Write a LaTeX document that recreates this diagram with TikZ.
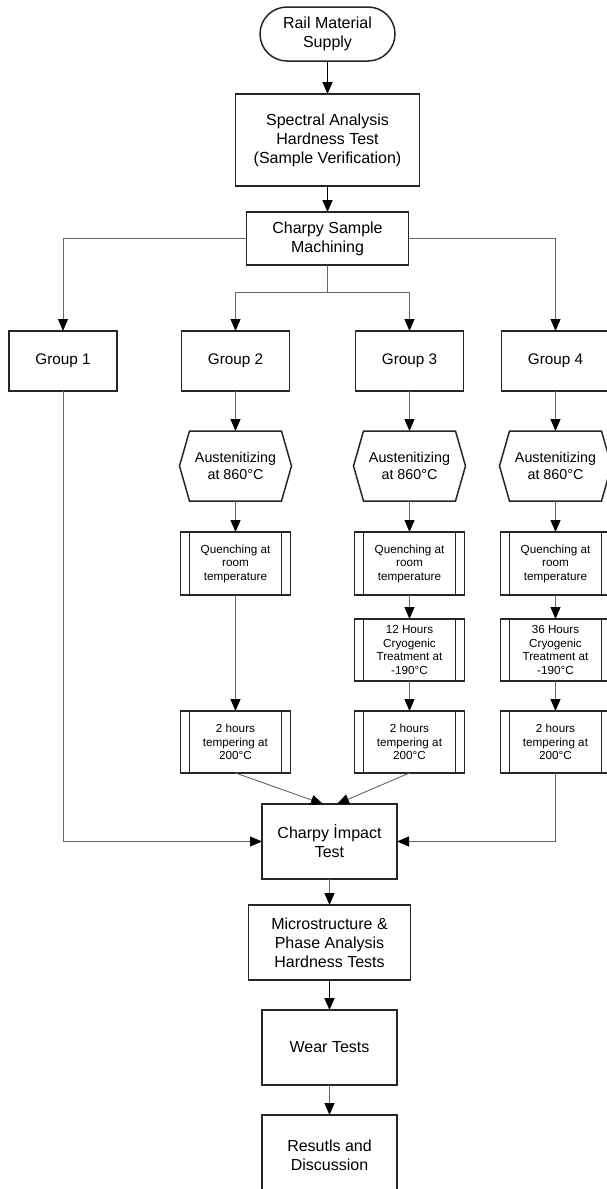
\documentclass[tikz,border=0pt]{standalone}
\usepackage{fontspec}
\setmainfont{Liberation Sans}
\usetikzlibrary{arrows.meta}

\begin{document}
\begin{tikzpicture}[x = 1pt, y = -1pt,
	box/.style = {draw = black!85, line width = 1.5pt, outer sep = 0pt, align = center, inner sep = 1pt},
	plain/.style = {outer sep = 0pt, align = center, inner sep = 1pt},
	big/.style = {font = \fontsize{16}{19}\selectfont},
	mid/.style = {font = \fontsize{14.3}{16.7}\selectfont},
	small/.style = {font = \fontsize{11.7}{13.5}\selectfont},
	grp/.style = {box, font = \fontsize{15.3}{18}\selectfont, minimum width = 108pt, minimum height = 60pt},
	prep/.style = {plain, mid, minimum width = 112pt, minimum height = 70pt},
	proc/.style = {box, small, minimum width = 110pt, minimum height = 62pt},
	edge/.style = {draw = black!85, line width = 1.5pt},
	link/.style = {draw = black!60, line width = 0.9pt, -{Triangle[length = 12pt, width = 10pt, black]}},
	main/.style = {draw = black, line width = 1.6pt, -{Triangle[length = 12pt, width = 10pt, black]}}]%akis
	\path[use as bounding box, fill = white] (0,0) rectangle (607,1189);

	\node[box, big, rounded corners = 27pt, minimum width = 135pt, minimum height = 54pt] (rail) at (327.5,34) {Rail Material\\Supply};
	\node[box, big, minimum width = 184pt, minimum height = 92pt] (spec) at (327.5,140) {Spectral Analysis\\Hardness Test\\(Sample Verification)};
	\node[box, big, minimum width = 162pt, minimum height = 53pt] (cs) at (327.5,238.5) {Charpy Sample\\Machining};
	\coordinate (split) at (327.5,292);

	\node[grp] (g1) at (63,361) {Group 1};
	\node[grp] (g2) at (235.5,361) {Group 2};
	\node[grp] (g3) at (409.5,361) {Group 3};
	\node[grp] (g4) at (555.5,361) {Group 4};

	\node[prep] (h2) at (235.5,466) {Austenitizing\\at 860°C};
	\node[prep] (h3) at (409.5,466) {Austenitizing\\at 860°C};
	\node[prep] (h4) at (555.5,466) {Austenitizing\\at 860°C};

	\node[proc, minimum height = 63pt] (q2) at (235.5,563.5) {Quenching at\\room\\temperature};
	\node[proc, minimum height = 63pt] (q3) at (409.5,563.5) {Quenching at\\room\\temperature};
	\node[proc, minimum height = 63pt] (q4) at (555.5,563.5) {Quenching at\\room\\temperature};

	\node[proc] (c3) at (409.5,650) {12 Hours\\Cryogenic\\Treatment at\\-190°C};
	\node[proc] (c4) at (555.5,650) {36 Hours\\Cryogenic\\Treatment at\\-190°C};

	\node[proc] (t2) at (235.5,742) {2 hours\\tempering at\\200°C};
	\node[proc] (t3) at (409.5,742) {2 hours\\tempering at\\200°C};
	\node[proc] (t4) at (555.5,742) {2 hours\\tempering at\\200°C};

	\node[box, big, minimum width = 135pt, minimum height = 75pt] (ci) at (329.5,841.5) {Charpy İmpact\\Test};
	\node[box, big, minimum width = 162pt, minimum height = 75pt] (micro) at (329.5,942.5) {Microstructure \&\\Phase Analysis\\Hardness Tests};
	\node[box, big, minimum width = 135pt, minimum height = 75pt] (wear) at (329.5,1047.5) {Wear Tests};
	\node[box, big, minimum width = 135pt, minimum height = 80pt] (res) at (329.5,1155) {Resutls and\\Discussion};

	\foreach \n in {h2, h3, h4}
		\draw[edge] (\n.west) -- ([xshift = 10pt]\n.north west) -- ([xshift = -10pt]\n.north east) -- (\n.east) -- ([xshift = -10pt]\n.south east) -- ([xshift = 10pt]\n.south west) -- cycle;
	\foreach \n in {q2, q3, q4, c3, c4, t2, t3, t4} {
		\draw[edge] ([xshift = 9pt]\n.north west) -- ([xshift = 9pt]\n.south west);
		\draw[edge] ([xshift = -9pt]\n.north east) -- ([xshift = -9pt]\n.south east);
	}

	\draw[main] (rail) -- (spec);
	\draw[main] (spec) -- (cs);
	\draw[link] (cs.west) -| (g1);
	\draw[link] (cs.east) -| (g4);
	\draw[draw = black!60, line width = 0.9pt] (cs.south) -- (split);
	\draw[link] (split) -| (g2);
	\draw[link] (split) -| (g3);

	\draw[link] (g2) -- (h2);
	\draw[link] (h2) -- (q2);
	\draw[link] (q2) -- (t2);
	\draw[link] (g3) -- (h3);
	\draw[link] (h3) -- (q3);
	\draw[link] (q3) -- (c3);
	\draw[link] (c3) -- (t3);
	\draw[link] (g4) -- (h4);
	\draw[link] (h4) -- (q4);
	\draw[link] (q4) -- (c4);
	\draw[link] (c4) -- (t4);

	\draw[link] (g1) |- (ci);
	\draw[link] (t4) |- (ci);
	\draw[link] (t2.south) -- ([xshift = -6.5pt]ci.north);
	\draw[link] (t3.south) -- ([xshift = 7.5pt]ci.north);
	\draw[link] (ci) -- (micro);
	\draw[main] (micro) -- (wear);
	\draw[link] (wear) -- (res);
\end{tikzpicture}
\end{document}
